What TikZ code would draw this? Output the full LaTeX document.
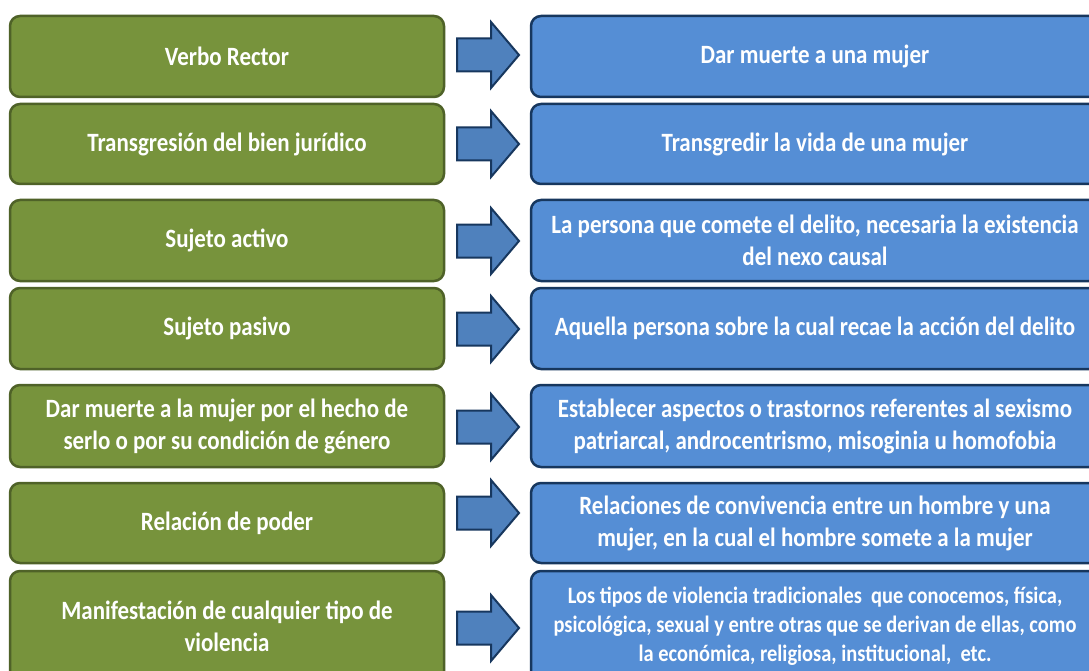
\documentclass[tikz,border=0pt]{standalone}
\usepackage{fontspec}
\setmainfont{Carlito}[FakeStretch=0.87]
\begin{document}
\begin{tikzpicture}[x=1pt,y=-1pt,
  greenbox/.style={draw=greenline, fill=greenfill, line width=2.5pt, rounded corners=10pt,
    minimum width=434pt, text=white, align=center, font=\fontsize{26.4}{32}\selectfont\bfseries, inner sep=0pt},
  bluebox/.style={draw=blueline, fill=bluefill, line width=2.5pt, rounded corners=10pt,
    minimum width=568pt, text=white, align=center, font=\fontsize{26.4}{32}\selectfont\bfseries, inner sep=0pt},
  arrstyle/.style={draw=arrline, fill=arrfill, line width=2pt, line join=miter},
  blockarr/.pic={\path[arrstyle] (0,-16.5) -- (34,-16.5) -- (34,-33) -- (62,0) -- (34,33) -- (34,16.5) -- (0,16.5) -- cycle;}
]
\definecolor{greenfill}{HTML}{77933C}
\definecolor{greenline}{HTML}{4F6228}
\definecolor{bluefill}{HTML}{558ED5}
\definecolor{blueline}{HTML}{17375E}
\definecolor{arrfill}{HTML}{4F81BD}
\definecolor{arrline}{HTML}{17375E}
\useasboundingbox (0,0) rectangle (1089,671);
\clip (0,0) rectangle (1089,671);
\fill[white] (0,0) rectangle (1089,671);

% left boxes
\node[greenbox, minimum height=81pt] (L1) at (227,56.5) {Verbo Rector};
\node[greenbox, minimum height=80pt] (L2) at (227,144) {Transgresión del bien jurídico};
\node[greenbox, minimum height=81pt] (L3) at (227,240.5) {Sujeto activo};
\node[greenbox, minimum height=81pt] (L4) at (227,328.5) {Sujeto pasivo};
\node[greenbox, minimum height=82pt] (L5) at (227,426) {Dar muerte a la mujer por el hecho de\\serlo o por su condición de género};
\node[greenbox, minimum height=80pt] (L6) at (227,523) {Relación de poder};
\node[greenbox, minimum height=110pt] (L7) at (227,626) {Manifestación de cualquier tipo de\\violencia};

% right boxes
\node[bluebox, minimum height=81pt] (R1) at (815,56.5) {Dar muerte a una mujer};
\node[bluebox, minimum height=80pt] (R2) at (815,144) {Transgredir la vida de una mujer};
\node[bluebox, minimum height=81pt] (R3) at (815,240.5) {La persona que comete el delito, necesaria la existencia\\del nexo causal};
\node[bluebox, minimum height=81pt] (R4) at (815,328.5) {Aquella persona sobre la cual recae la acción del delito};
\node[bluebox, minimum height=82pt] (R5) at (815,426) {Establecer aspectos o trastornos referentes al sexismo\\patriarcal, androcentrismo, misoginia u homofobia};
\node[bluebox, minimum height=80pt] (R6) at (815,523) {Relaciones de convivencia entre un hombre y una\\mujer, en la cual el hombre somete a la mujer};
\node[bluebox, minimum height=110pt, font=\fontsize{23.5}{29}\selectfont\bfseries] (R7) at (815,626) {Los tipos de violencia tradicionales\ \ que conocemos, física,\\psicológica, sexual y entre otras que se derivan de ellas, como\\la económica, religiosa, institucional,\ \ etc.};

% block arrows
\pic at (457,55) {blockarr};
\pic at (457,144) {blockarr};
\pic at (457,241) {blockarr};
\pic at (457,329) {blockarr};
\pic at (457,427) {blockarr};
\pic at (457,513) {blockarr};
\pic at (457,628) {blockarr};
\end{tikzpicture}
\end{document}
